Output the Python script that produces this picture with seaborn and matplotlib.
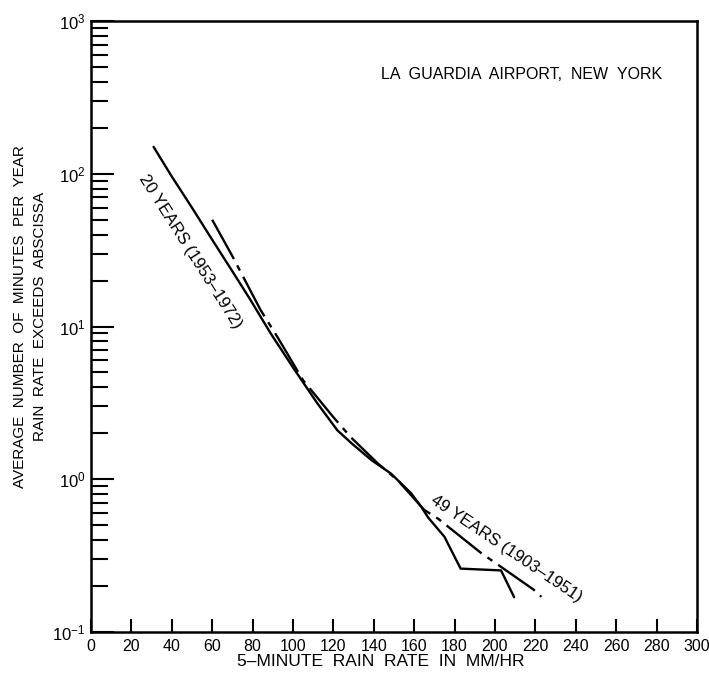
import numpy as np
import pandas as pd
import matplotlib
matplotlib.use("Agg")
import matplotlib.pyplot as plt
import seaborn as sns

# 20 years (1953-1972), solid curve
x_20yr = [31, 40, 50, 60, 70, 79, 89, 100, 112, 122, 129, 139, 148.5, 158.5,
          163.5, 167, 175, 183, 203, 209.5]
y_20yr = [150, 96, 60, 37, 23, 14.9, 9.0, 5.4, 3.15, 2.09, 1.72, 1.33, 1.09, 0.81,
          0.66, 0.56, 0.42, 0.26, 0.253, 0.169]

# 49 years (1903-1951), dash-dot curve
x_49yr = [60, 70, 84, 92.4, 105, 120, 128.7, 142, 152, 165, 172, 193, 219, 223]
y_49yr = [50, 28.9, 12.8, 8.5, 4.45, 2.55, 1.88, 1.27, 0.98, 0.63, 0.55, 0.33, 0.19, 0.17]

x_ticks = list(range(0, 301, 20))

sns.set_style("ticks")
plt.rcParams['font.family'] = ['Liberation Sans', 'DejaVu Sans']
plt.rcParams['mathtext.fontset'] = 'custom'
plt.rcParams['mathtext.rm'] = 'Liberation Sans'
plt.rcParams['mathtext.it'] = 'Liberation Sans'
plt.rcParams['mathtext.default'] = 'regular'
for key in ['text.color', 'axes.labelcolor', 'xtick.color', 'ytick.color', 'axes.edgecolor']:
    plt.rcParams[key] = 'black'

df20 = pd.DataFrame({'rate': x_20yr, 'minutes': y_20yr})
df49 = pd.DataFrame({'rate': x_49yr, 'minutes': y_49yr})

fig = plt.figure(figsize=(7.09, 6.76), dpi=100)
ax = fig.add_axes([0.1283, 0.0651, 0.8547, 0.9038])

sns.lineplot(data=df20, x='rate', y='minutes', ax=ax, color='black', lw=1.7,
             estimator=None, sort=False)
sns.lineplot(data=df49, x='rate', y='minutes', ax=ax, color='black', lw=1.7,
             estimator=None, sort=False, linestyle=(0, (19, 3, 2.5, 3)))

ax.set_yscale('log')
ax.set_xlim(0, 300)
ax.set_ylim(0.1, 1000)
ax.set_xticks(x_ticks)
ax.set_yticks([0.1, 1, 10, 100, 1000])
ax.yaxis.set_minor_locator(matplotlib.ticker.LogLocator(base=10, subs=np.arange(2, 10)))
ax.yaxis.set_minor_formatter(matplotlib.ticker.NullFormatter())
ax.xaxis.set_minor_locator(matplotlib.ticker.NullLocator())

for s in ax.spines.values():
    s.set_linewidth(1.8)
    s.set_visible(True)

ax.tick_params(axis='x', which='major', direction='in', length=9.5, width=1.5,
               labelsize=11.5, pad=5, top=False)
ax.tick_params(axis='y', which='major', direction='in', length=16.5, width=1.5,
               labelsize=12, pad=4, right=False)
ax.tick_params(axis='y', which='minor', direction='in', length=12, width=1.5,
               right=False)

ax.set_xlabel('5–MINUTE  RAIN  RATE  IN  MM/HR', fontsize=12.5)
ax.xaxis.set_label_coords(0.478, -0.048)
ax.xaxis.label.set_va('center')
ax.set_ylabel('AVERAGE  NUMBER  OF  MINUTES  PER  YEAR\nRAIN  RATE  EXCEEDS  ABSCISSA',
              fontsize=11, linespacing=1.55, multialignment='center')
ax.yaxis.set_label_coords(-0.1, 0.516)
ax.yaxis.label.set_va('center')

ax.text(0.711, 0.912, 'LA  GUARDIA  AIRPORT,  NEW  YORK', transform=ax.transAxes,
        ha='center', va='center', fontsize=11.5)
ax.text(49.3, 31, '20 YEARS (1953–1972)', rotation=-57.6, rotation_mode='anchor',
        ha='center', va='center', fontsize=12)
ax.text(205.5, 0.35, '49 YEARS (1903–1951)', rotation=-34, rotation_mode='anchor',
        ha='center', va='center', fontsize=12)

fig.savefig('out.png', dpi=100)
